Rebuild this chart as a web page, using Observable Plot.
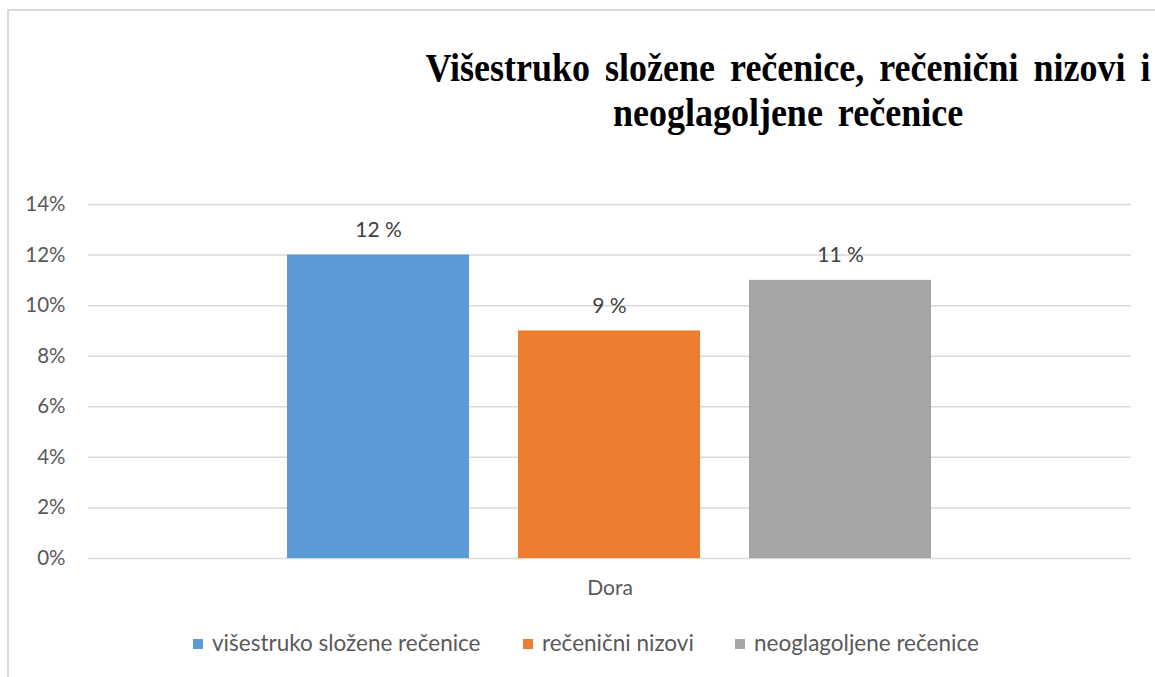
<!DOCTYPE html>
<html>
<head>
<meta charset="utf-8">
<script src="https://cdn.jsdelivr.net/npm/d3@7"></script>
<script src="https://cdn.jsdelivr.net/npm/@observablehq/plot@0.6"></script>
<style>
  html, body { margin: 0; padding: 0; background: #fff; }
  #wrap { position: relative; width: 1155px; height: 677px; overflow: hidden; background: #fff; }
  #frame { position: absolute; left: 7px; top: 9px; width: 1160px; height: 700px; border-left: 2px solid #d9d9d9; border-top: 2px solid #d9d9d9; box-sizing: border-box; }
  .title { position: absolute; font-family: "Liberation Serif", "Times New Roman", serif; font-weight: bold; font-size: 36px; color: #000; white-space: nowrap; transform: translateX(-50%) scaleY(1.1); transform-origin: 50% 89%; line-height: 1; }
  #chart { position: absolute; left: 0; top: 180px; }
  #legend { position: absolute; top: 630px; left: 0; width: 1155px; height: 26px; font-family: Lato, "Open Sans", sans-serif; font-size: 22.5px; color: #595959; }
  .li { position: absolute; top: 0; white-space: nowrap; line-height: 26px; }
  .sw { display: inline-block; width: 10px; height: 10px; margin-right: 9px; vertical-align: 2px; }
</style>
</head>
<body>
<div id="wrap">
  <div id="frame"></div>
  <div class="title" id="t1" style="left:788px; top:51px; word-spacing:6px;">Višestruko složene rečenice, rečenični nizovi i</div>
  <div class="title" id="t2" style="left:788px; top:96px; word-spacing:6px;">neoglagoljene rečenice</div>
  <div id="chart"></div>
  <div id="legend"></div>
</div>
<script>
const group = "Dora";
const series = ["višestruko složene rečenice", "rečenični nizovi", "neoglagoljene rečenice"];
const values = [0.12, 0.09, 0.11];
const colors = ["#5b9bd5", "#ed7d31", "#a5a5a5"];
const yTicks = [0, 0.02, 0.04, 0.06, 0.08, 0.10, 0.12, 0.14];

const data = series.map((s, i) => ({group, series: s, value: values[i]}));

const chart = Plot.plot({
  width: 1155,
  height: 430,
  marginTop: 24,
  marginBottom: 52,
  marginLeft: 88,
  marginRight: 24,
  style: {fontFamily: "Lato, 'Open Sans', sans-serif", background: "transparent"},
  fx: {domain: [group], padding: 0, label: null},
  x: {domain: series, paddingInner: 0.212, paddingOuter: 0.861, axis: null},
  y: {domain: [0, 0.14], label: null},
  color: {domain: series, range: colors},
  marks: [
    Plot.gridY(yTicks, {stroke: "#d9d9d9", strokeOpacity: 1, strokeWidth: 1.5}),
    Plot.axisY(yTicks, {tickSize: 0, tickPadding: 23, tickFormat: d => Math.round(d * 100) + "%", fontSize: 20.5, fill: "#595959", label: null}),
    Plot.axisFx({anchor: "bottom", tickSize: 0, tickPadding: 22, fontSize: 21, fill: "#595959", label: null}),
    Plot.barY(data, {fx: "group", x: "series", y: "value", fill: "series"}),
    Plot.text(data, {fx: "group", x: "series", y: "value", text: d => Math.round(d.value * 100) + " %", dy: -25, fontSize: 21, fill: "#404040"})
  ]
});
document.getElementById("chart").appendChild(chart);

const legendX = [193, 523, 735];
const legend = document.getElementById("legend");
series.forEach((s, i) => {
  const el = document.createElement("div");
  el.className = "li";
  el.style.left = legendX[i] + "px";
  el.innerHTML = `<span class="sw" style="background:${colors[i]}"></span>${s}`;
  legend.appendChild(el);
});
</script>
</body>
</html>
